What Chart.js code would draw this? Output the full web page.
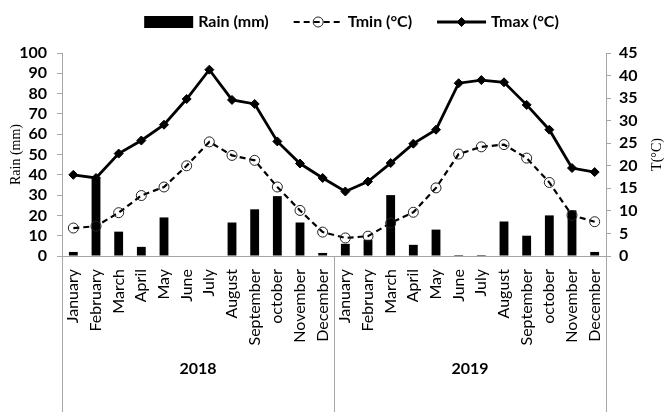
<!DOCTYPE html>
<html>
<head>
<meta charset="utf-8">
<script src="https://cdn.jsdelivr.net/npm/chart.js@4.4.1/dist/chart.umd.min.js"></script>
<style>
  html, body { margin: 0; padding: 0; background: #fff; }
  canvas { display: block; }
</style>
</head>
<body>
<canvas id="chart" width="667" height="412"></canvas>
<script>
// Monthly climate record, 2018-2019
const months = ['January', 'February', 'March', 'April', 'May', 'June', 'July',
                'August', 'September', 'october', 'November', 'December'];
const years = ['2018', '2019'];

// Monthly rainfall (mm)
const rain = [2, 38, 12, 4.5, 19, 0, 0, 16.5, 23, 29.5, 16.5, 1.5,
              6, 8, 30, 5.5, 13, 0.5, 0.5, 17, 10, 20, 22.5, 2];
// Mean minimum temperature (°C)
const tmin = [6.2, 6.6, 9.6, 13.4, 15.3, 20.0, 25.3, 22.3, 21.2, 15.3, 10.1, 5.3,
              4.0, 4.4, 7.3, 9.7, 15.1, 22.6, 24.2, 24.7, 21.7, 16.3, 9.0, 7.6];
// Mean maximum temperature (°C)
const tmax = [18.0, 17.3, 22.7, 25.6, 29.1, 34.8, 41.3, 34.6, 33.7, 25.4, 20.5, 17.3,
              14.3, 16.5, 20.6, 24.9, 28.0, 38.3, 39.0, 38.5, 33.5, 28.0, 19.5, 18.6];

// Axis ranges
const rainAxis = { min: 0, max: 100, step: 10 };
const tempAxis = { min: 0, max: 45, step: 5 };

const categories = years.flatMap(() => months);

const AXIS_GREY = '#a6a6a6';
const SANS = 'Lato, "Open Sans", sans-serif';
const SERIF = '"Liberation Serif", "DejaVu Serif", serif';

// Draws the year separators, the right axis title and the legend
const decorations = {
  id: 'decorations',
  afterDraw(chart) {
    const { ctx, chartArea, scales } = chart;
    const x = scales.x;
    const half = (x.getPixelForValue(1) - x.getPixelForValue(0)) / 2;
    const n = categories.length;
    const bounds = [0, months.length, n].map(i =>
      i < n ? x.getPixelForValue(i) - half : x.getPixelForValue(n - 1) + half);

    ctx.save();
    ctx.strokeStyle = AXIS_GREY;
    ctx.lineWidth = 1;
    bounds.forEach(px => {
      const xx = Math.round(px) + 0.5;
      ctx.beginPath();
      ctx.moveTo(xx, chartArea.bottom);
      ctx.lineTo(xx, chart.height);
      ctx.stroke();
    });

    // right axis title, reading upwards
    ctx.fillStyle = '#000';
    ctx.font = '14px ' + SERIF;
    ctx.textAlign = 'center';
    ctx.textBaseline = 'middle';
    ctx.translate(657, (chartArea.top + chartArea.bottom) / 2);
    ctx.rotate(-Math.PI / 2);
    ctx.fillText('T(°C)', 0, 0);
    ctx.restore();

    // legend
    ctx.save();
    const ly = 22, glyphW = 49, textGap = 5, itemGap = 25;
    ctx.font = 'bold 16px ' + SANS;
    const items = chart.data.datasets.map(ds => ({
      ds, w: glyphW + textGap + ctx.measureText(ds.label).width
    }));
    const total = items.reduce((a, it) => a + it.w, 0) + itemGap * (items.length - 1);
    let cx = 351.5 - total / 2;
    items.forEach(({ ds, w }) => {
      if (ds.type === 'bar') {
        ctx.fillStyle = ds.backgroundColor;
        ctx.fillRect(cx, ly - 6, glyphW, 12);
      } else {
        ctx.strokeStyle = ds.borderColor;
        ctx.lineWidth = ds.borderWidth;
        ctx.setLineDash(ds.borderDash || []);
        ctx.beginPath();
        ctx.moveTo(cx, ly);
        ctx.lineTo(cx + glyphW, ly);
        ctx.stroke();
        ctx.setLineDash([]);
        const mx = cx + glyphW / 2, r = ds.pointRadius;
        ctx.beginPath();
        if (ds.pointStyle === 'circle') {
          ctx.arc(mx, ly, r, 0, Math.PI * 2);
        } else {
          ctx.moveTo(mx, ly - r);
          ctx.lineTo(mx + r, ly);
          ctx.lineTo(mx, ly + r);
          ctx.lineTo(mx - r, ly);
          ctx.closePath();
        }
        ctx.fillStyle = ds.pointBackgroundColor;
        ctx.fill();
        ctx.lineWidth = ds.pointBorderWidth;
        ctx.strokeStyle = ds.pointBorderColor;
        ctx.stroke();
      }
      ctx.fillStyle = '#000';
      ctx.textAlign = 'left';
      ctx.textBaseline = 'middle';
      ctx.fillText(ds.label, cx + glyphW + textGap, ly);
      cx += w + itemGap;
    });
    ctx.restore();
  }
};

new Chart(document.getElementById('chart'), {
  type: 'bar',
  data: {
    labels: categories,
    datasets: [
      {
        type: 'bar', label: 'Rain (mm)', data: rain,
        xAxisID: 'x', yAxisID: 'y',
        backgroundColor: '#000',
        categoryPercentage: 1, barPercentage: 0.39,
        order: 3
      },
      {
        type: 'line', label: 'Tmin (°C)', data: tmin,
        xAxisID: 'x', yAxisID: 'y1',
        borderColor: '#000', borderWidth: 2.2, borderDash: [6, 4],
        pointStyle: 'circle', pointRadius: 5, pointBorderWidth: 1,
        pointBorderColor: '#222', pointBackgroundColor: 'rgba(0,0,0,0)',
        tension: 0, order: 2
      },
      {
        type: 'line', label: 'Tmax (°C)', data: tmax,
        xAxisID: 'x', yAxisID: 'y1',
        borderColor: '#000', borderWidth: 2.8,
        pointStyle: 'rectRot', pointRadius: 4.5, pointBorderWidth: 1,
        pointBorderColor: '#000', pointBackgroundColor: '#000',
        tension: 0, order: 1
      }
    ]
  },
  options: {
    responsive: false,
    animation: false,
    devicePixelRatio: 1,
    layout: { padding: { top: 53, right: 0, bottom: 0, left: 0 } },
    plugins: { legend: { display: false }, tooltip: { enabled: false } },
    scales: {
      x: {
        type: 'category', position: 'bottom', offset: true,
        grid: { display: false, drawTicks: false },
        border: { color: AXIS_GREY },
        ticks: {
          autoSkip: false, maxRotation: 90, minRotation: 90, padding: 13,
          color: '#000', font: { family: SANS, size: 16 }
        },
        afterFit(s) { s.height = 100; }
      },
      x2: {
        type: 'category', labels: years, position: 'bottom', offset: true,
        grid: { display: false, drawTicks: false },
        border: { display: false },
        ticks: { padding: 3, color: '#000', font: { family: SANS, size: 16, weight: 'bold' } },
        afterFit(s) { s.height = 56; }
      },
      y: {
        position: 'left', min: rainAxis.min, max: rainAxis.max,
        ticks: { stepSize: rainAxis.step, autoSkip: false, padding: 10, color: '#000',
                 font: { family: SANS, size: 16, weight: 'bold' } },
        grid: { drawOnChartArea: false, drawTicks: true, tickLength: 5, color: AXIS_GREY },
        border: { color: AXIS_GREY },
        title: { display: true, text: 'Rain (mm)', color: '#000',
                 font: { family: SERIF, size: 14 }, padding: { top: 8, bottom: 0 } },
        afterFit(s) { s.width = 62; }
      },
      y1: {
        position: 'right', min: tempAxis.min, max: tempAxis.max,
        ticks: { stepSize: tempAxis.step, autoSkip: false, padding: 8, color: '#000',
                 font: { family: SANS, size: 16, weight: 'bold' } },
        grid: { drawOnChartArea: false, drawTicks: true, tickLength: 5, color: AXIS_GREY },
        border: { color: AXIS_GREY },
        afterFit(s) { s.width = 61; }
      }
    }
  },
  plugins: [decorations]
});
</script>
</body>
</html>
